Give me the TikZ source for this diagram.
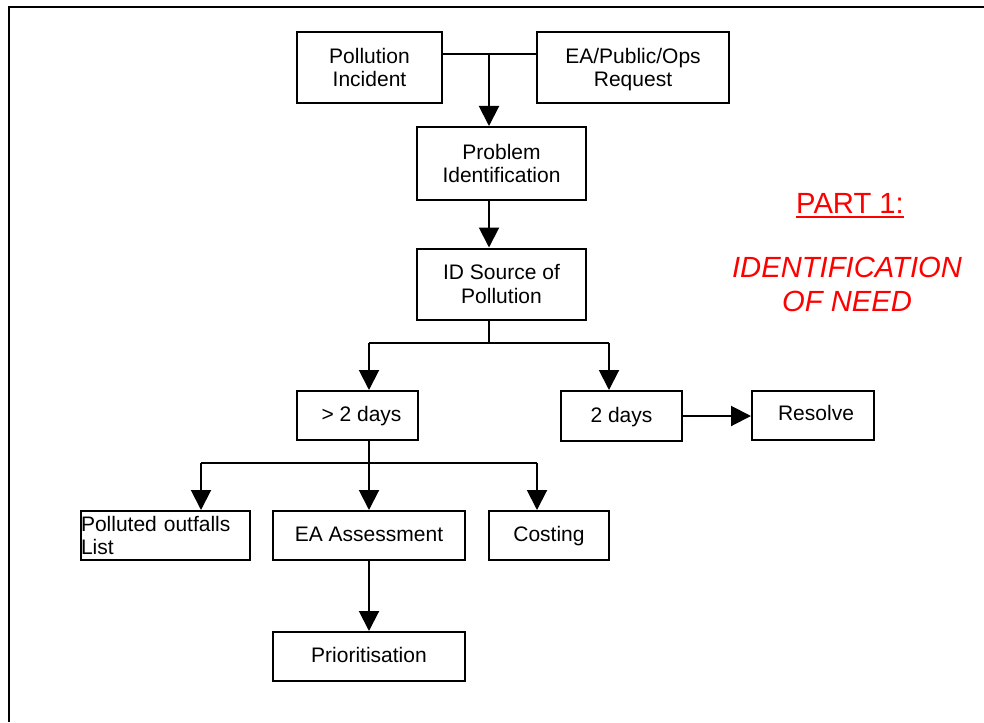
\documentclass[tikz,border=0pt]{standalone}
\usepackage{fontspec}
\setmainfont{Liberation Sans}
\usetikzlibrary{arrows.meta}
\begin{document}
\begin{tikzpicture}[x=0.5pt,y=-0.5pt,
  box/.style={draw,line width=1pt,inner sep=0pt,align=center,
    font=\fontsize{10.5}{11.7}\selectfont},
  one/.style={box,text height=8.6pt,text depth=2.2pt},
  link/.style={line width=1pt},
  arr/.style={line width=1pt,-{Triangle[width=10pt,length=10pt]}},
  note/.style={text=red,inner sep=0pt,align=center,
    font=\fontsize{14.6}{17}\selectfont}]
  \useasboundingbox (0,0) rectangle (984,722);
  \draw[line width=1pt] (984,7) -- (9,7) -- (9,722);
  \node[box,minimum width=72.5pt,minimum height=35.5pt] (inc) at (369.5,67.5) {Pollution\\Incident};
  \node[box,text depth=0pt,minimum width=96pt,minimum height=35.5pt] (req) at (633,67.5) {EA/Public/Ops\\Request};
  \node[box,minimum width=84.5pt,minimum height=36.5pt] (pi) at (501.5,163.5) {Problem\\Identification};
  \node[box,minimum width=84.5pt,minimum height=35.5pt] (src) at (501.5,284) {ID Source of\\Pollution};
  \node[one,minimum width=60.5pt,minimum height=24.5pt] (gt) at (357.5,415.5) {\hspace{4pt}> 2 days};
  \node[one,minimum width=60.5pt,minimum height=25pt] (two) at (621.5,416) {2 days};
  \node[one,minimum width=61pt,minimum height=24.5pt] (res) at (813,415.5) {\raisebox{0.5pt}{\hspace{3pt}Resolve}};
  \node[box,text width=84.5pt,align=left,minimum height=24.5pt] (pol) at (165.5,535.5) {Polluted outfalls\\List};
  \node[one,minimum width=96pt,minimum height=24.5pt] (ea) at (369,535.5) {EA Assessment};
  \node[one,minimum width=60pt,minimum height=24.5pt] (cost) at (549,535.5) {Costing};
  \node[one,minimum width=96pt,minimum height=24.5pt] (pri) at (369,656.5) {Prioritisation};
  \node[note,anchor=base] (part) at (850,213.3) {PART 1:};
  \draw[red,line width=1pt] ([yshift=-2pt]part.base west) -- ([yshift=-2pt]part.base east);
  \node[note,font=\fontsize{14.6}{17}\selectfont\itshape] (need) at (847,284.4) {IDENTIFICATION\\OF NEED};
  \coordinate (j1) at (489,54);
  \coordinate (j2) at (489,343);
  \coordinate (a1) at (369,343);
  \coordinate (a2) at (609,343);
  \coordinate (b1) at (201,463);
  \coordinate (b2) at (537,463);
  \draw[link] (inc.east |- j1) -- (req.west |- j1);
  \draw[arr] (j1) -- (j1 |- pi.north);
  \draw[arr] (pi.south -| j1) -- (src.north -| j1);
  \draw[link] (src.south -| j2) -- (j2);
  \draw[link] (a1) -- (a2);
  \draw[arr] (a1) -- (a1 |- gt.north);
  \draw[arr] (a2) -- (a2 |- two.north);
  \draw[arr] (two.east) -- (two.east -| res.west);
  \draw[arr] (gt.south -| ea.north) -- (ea.north);
  \draw[link] (b1) -- (b2);
  \draw[arr] (b1) -- (b1 |- pol.north);
  \draw[arr] (b2) -- (b2 |- cost.north);
  \draw[arr] (ea) -- (pri);
\end{tikzpicture}
\end{document}
